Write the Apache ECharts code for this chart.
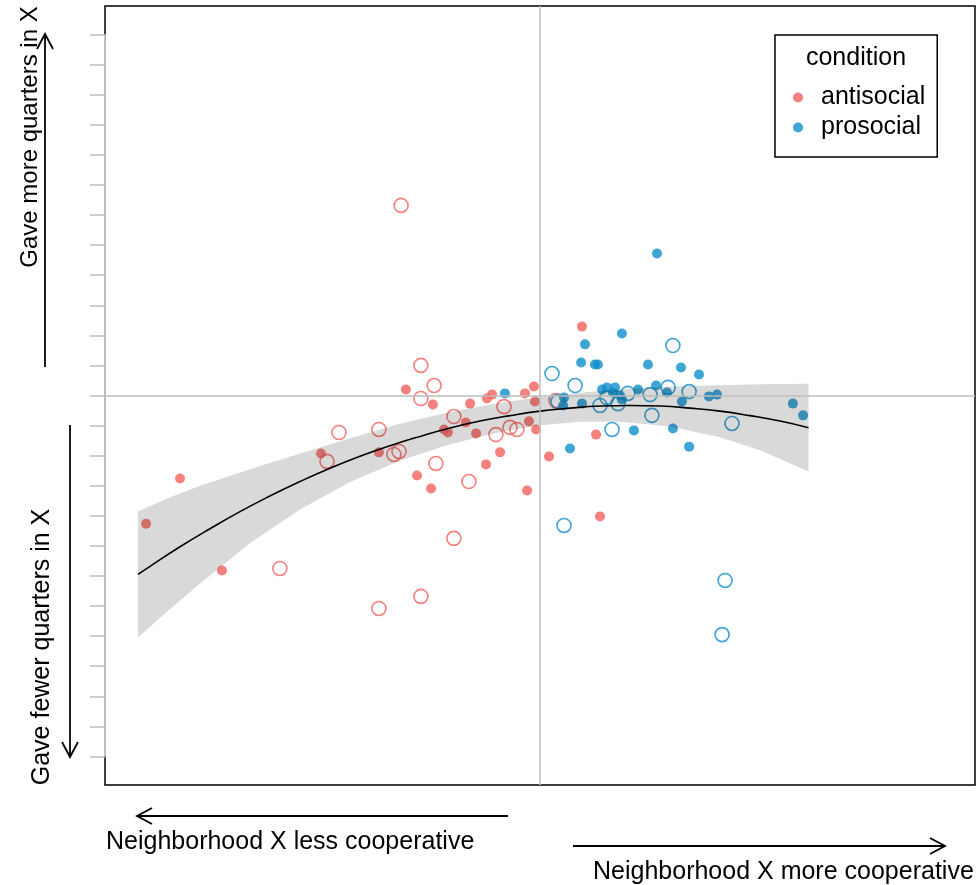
<!DOCTYPE html>
<html><head><meta charset="utf-8">
<script src="https://cdn.jsdelivr.net/npm/echarts@6/dist/echarts.min.js"></script>
<style>html,body{margin:0;padding:0;background:#fff}#c{width:979px;height:885px}</style>
</head><body><div id="c"></div>
<script>
// ---- data (x: neighborhood cooperativeness, y: quarters difference) ----
const antisocialFilled = [
  [-13.13,-4.26],[-12.0,-2.76],[-10.6,-5.82],[-7.3,-1.93],[-5.37,-1.89],[-4.47,0.20],
  [-3.57,-0.30],[-2.33,-0.27],[-1.77,-0.10],[-1.6,0.03],[-0.5,0.07],[-0.2,0.30],
  [-0.17,-0.20],[-2.47,-0.90],[-3.2,-1.13],[-3.07,-1.23],[-2.13,-1.26],[-0.37,-0.86],
  [-0.13,-1.13],[-1.33,-1.89],[-1.8,-2.29],[-4.1,-2.66],[-3.63,-3.09],[-0.43,-3.16],
  [0.3,-2.03],[1.4,2.29],[1.87,-1.30],[2.0,-4.02]
];
const antisocialOpen = [
  [-8.67,-5.75],[-7.1,-2.19],[-6.7,-1.23],[-5.37,-1.13],[-4.87,-1.96],[-4.7,-1.86],
  [-5.37,-7.08],[-4.63,6.32],[-3.97,1.0],[-3.53,0.33],[-3.97,-0.10],[-1.2,-0.37],
  [-2.87,-0.70],[-1.47,-1.30],[-1.0,-1.06],[-0.77,-1.13],[-3.47,-2.26],[-2.37,-2.86],
  [-2.87,-4.75],[0.53,-0.17],[-3.97,-6.68]
];
const prosocialFilled = [
  [3.9,4.72],[1.5,1.70],[2.73,2.06],[1.37,1.10],[1.83,1.03],[1.93,1.03],[3.6,1.03],
  [4.7,0.93],[5.3,0.70],[-1.17,0.07],[0.8,-0.07],[0.77,-0.33],[1.4,-0.27],[2.07,0.20],
  [2.23,0.27],[2.5,0.27],[2.67,0.0],[2.73,-0.13],[3.27,0.20],[3.87,0.33],[4.23,0.10],
  [4.73,-0.20],[5.63,-0.03],[5.9,0.03],[8.43,-0.27],[8.77,-0.66],[3.13,-1.16],
  [4.43,-1.10],[4.97,-1.70],[1.0,-1.76],[2.43,0.10]
];
const prosocialOpen = [
  [4.43,1.66],[0.4,0.73],[1.17,0.33],[0.6,-0.20],[2.23,-0.07],[2.0,-0.33],[2.6,-0.27],
  [2.93,0.07],[3.67,0.03],[4.27,0.27],[4.97,0.13],[3.73,-0.66],[6.4,-0.93],[2.4,-1.13],
  [0.8,-4.32],[6.17,-6.15],[6.07,-7.95]
];
// fitted curve and its confidence band
const fitX = [-13.4,-13,-12,-11,-10,-9,-8,-7,-6,-5,-4,-3,-2,-1,0,1,2,3,4,5,6,7,8,8.95];
const fitY = [-5.95,-5.68,-5.03,-4.43,-3.86,-3.34,-2.86,-2.42,-2.02,-1.67,-1.36,-1.08,-0.85,-0.67,-0.52,-0.42,-0.35,-0.33,-0.35,-0.42,-0.52,-0.67,-0.85,-1.07];
const bandX = [-13.4,-12.33,-11.33,-9.67,-8,-6.33,-4.67,-3,-1.33,0,1.33,2.67,4.33,6,7.33,8.95];
const bandUpper = [-3.86,-3.38,-3.00,-2.45,-1.93,-1.42,-0.94,-0.55,-0.24,-0.06,0.09,0.20,0.30,0.34,0.37,0.39];
const bandLower = [-8.05,-7.10,-6.25,-4.91,-3.79,-2.88,-2.17,-1.62,-1.21,-0.99,-0.87,-0.87,-1.03,-1.39,-1.82,-2.53];
const yTicks = [-12,-11,-10,-9,-8,-7,-6,-5,-4,-3,-2,-1,0,1,2,3,4,5,6,7,8,9,10,11,12];
const legendNames = ['antisocial','prosocial'];

const RED = '#F4605B', BLUE = '#0F8FC9', GRAY = '#bdbdbd';
const FONT = '"Liberation Sans", Arial, Helvetica, sans-serif';

const chart = echarts.init(document.getElementById('c'));
const fitData = fitX.map((x,i)=>[x, fitY[i]]);

function openStyle(c){ return {color:'rgba(0,0,0,0)', borderColor:c, borderWidth:1.6}; }

const arrowStyle = {stroke:'#000', lineWidth:1.8, fill:null};
const markBase = {silent:true, symbol:['none','none'], label:{show:false}, animation:false, emphasis:{disabled:true}};

chart.setOption({
  animation:false,
  grid:{left:105, right:4, top:6, bottom:100, show:true, borderColor:'#000', borderWidth:1.5, backgroundColor:'rgba(0,0,0,0)'},
  xAxis:{type:'value', min:-14.5, max:14.5, axisLine:{show:false, onZero:false}, axisTick:{show:false}, axisLabel:{show:false}, splitLine:{show:false}},
  yAxis:{type:'value', min:-12.95, max:12.95, position:'left', axisLine:{show:false, onZero:false},
    axisTick:{show:true, customValues:yTicks, length:15, lineStyle:{color:GRAY, width:1.5}},
    axisLabel:{show:false}, splitLine:{show:false}},
  legend:{data:legendNames, orient:'vertical', left:775, top:35, padding:[50,12,17,18],
    itemWidth:10, itemHeight:10, itemGap:5, icon:'circle', selectedMode:false,
    borderColor:'#000', borderWidth:1.5, backgroundColor:'#fff',
    textStyle:{fontSize:25, color:'#000', fontFamily:FONT, padding:[0,0,0,13]}},
  graphic:[
    {type:'text', x:856, y:58, style:{text:'condition', font:'25px '+FONT, fill:'#000', textAlign:'center', textVerticalAlign:'middle'}, z:100},
    {type:'text', x:30, y:137, rotation:Math.PI/2, style:{text:'Gave more quarters in X', font:'24px '+FONT, fill:'#000', textAlign:'center', textVerticalAlign:'middle'}},
    {type:'text', x:42, y:647, rotation:Math.PI/2, style:{text:'Gave fewer quarters in X', font:'25px '+FONT, fill:'#000', textAlign:'center', textVerticalAlign:'middle'}},
    {type:'text', x:106, y:842, style:{text:'Neighborhood X less cooperative', font:'25px '+FONT, fill:'#000', textAlign:'left', textVerticalAlign:'middle'}},
    {type:'text', x:593, y:872, style:{text:'Neighborhood X more cooperative', font:'25px '+FONT, fill:'#000', textAlign:'left', textVerticalAlign:'middle'}},
    {type:'polyline', shape:{points:[[45,367],[45,34]]}, style:arrowStyle},
    {type:'polyline', shape:{points:[[37,49],[45,34],[53,49]]}, style:arrowStyle},
    {type:'polyline', shape:{points:[[70,425],[70,757]]}, style:arrowStyle},
    {type:'polyline', shape:{points:[[62,742],[70,757],[78,742]]}, style:arrowStyle},
    {type:'polyline', shape:{points:[[508,816],[137,816]]}, style:arrowStyle},
    {type:'polyline', shape:{points:[[152,808],[137,816],[152,824]]}, style:arrowStyle},
    {type:'polyline', shape:{points:[[573,846],[945,846]]}, style:arrowStyle},
    {type:'polyline', shape:{points:[[930,838],[945,846],[930,854]]}, style:arrowStyle}
  ],
  series:[
    {type:'scatter', name:'refs', data:[], z:1, silent:true,
      markLine:Object.assign({}, markBase, {lineStyle:{color:GRAY, width:1.5, type:'solid'},
        data:[{xAxis:0},{yAxis:0}]})},
    {type:'scatter', name:'axisSeg', data:[], z:10, silent:true,
      markLine:Object.assign({}, markBase, {lineStyle:{color:GRAY, width:2, type:'solid'},
        data:[[{coord:[-14.5,-12]},{coord:[-14.5,12]}]]})},
    {type:'scatter', name:'antisocial', data:antisocialFilled, symbol:'circle', symbolSize:10, itemStyle:{color:RED}, z:2},
    {type:'scatter', name:'antisocial open', data:antisocialOpen, symbol:'circle', symbolSize:14, itemStyle:openStyle(RED), z:2},
    {type:'scatter', name:'prosocial', data:prosocialFilled, symbol:'circle', symbolSize:10, itemStyle:{color:BLUE}, z:2},
    {type:'scatter', name:'prosocial open', data:prosocialOpen, symbol:'circle', symbolSize:14, itemStyle:openStyle(BLUE), z:2},
    {type:'custom', name:'band', data:[0], z:3, silent:true, clip:false,
      renderItem:function(params, api){
        const pts=[];
        for(let i=0;i<bandX.length;i++) pts.push(api.coord([bandX[i], bandUpper[i]]));
        for(let i=bandX.length-1;i>=0;i--) pts.push(api.coord([bandX[i], bandLower[i]]));
        return {type:'polygon', shape:{points:pts}, style:{fill:'rgba(0,0,0,0.15)', stroke:null}};
      }},
    {type:'line', name:'fit', data:fitData, smooth:true, symbol:'none', z:4, silent:true,
      lineStyle:{color:'#000', width:1.6}}
  ]
});
</script></body></html>
